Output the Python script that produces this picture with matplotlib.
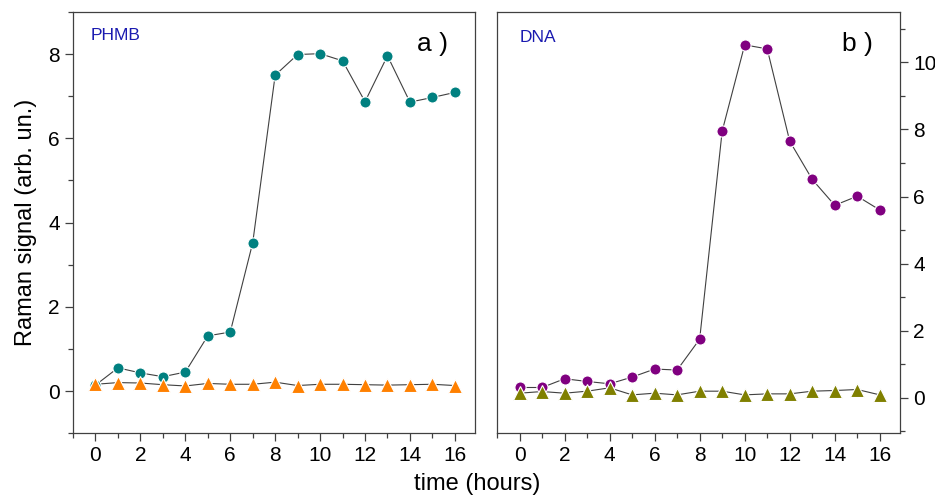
import numpy as np
import matplotlib
matplotlib.use('Agg')
from matplotlib import pyplot as plt
from matplotlib.ticker import MultipleLocator

plt.rcParams['font.family'] = ['Liberation Sans', 'DejaVu Sans']

hours = [0, 1, 2, 3, 4, 5, 6, 7, 8, 9, 10, 11, 12, 13, 14, 15, 16]
# panel a) PHMB
phmb = [0.14, 0.55, 0.43, 0.34, 0.45, 1.31, 1.40, 3.52, 7.50, 7.99, 8.01,
        7.84, 6.87, 7.96, 6.86, 6.97, 7.09]
phmb_ctrl = [0.16, 0.20, 0.19, 0.15, 0.12, 0.18, 0.16, 0.16, 0.21, 0.13, 0.16,
             0.16, 0.15, 0.14, 0.15, 0.16, 0.13]
# panel b) DNA
dna = [0.31, 0.31, 0.57, 0.49, 0.42, 0.62, 0.86, 0.83, 1.75, 7.95, 10.52,
       10.40, 7.65, 6.51, 5.74, 6.01, 5.60]
dna_ctrl = [0.14, 0.19, 0.14, 0.20, 0.30, 0.09, 0.14, 0.09, 0.20, 0.20, 0.09,
            0.12, 0.12, 0.20, 0.22, 0.25, 0.09]

fig = plt.figure(figsize=(9.35, 4.99), dpi=100)
ax1 = fig.add_axes([0.0781, 0.132, 0.430, 0.844])
ax2 = fig.add_axes([0.5316, 0.132, 0.431, 0.844])

line_kw = dict(color='#404040', lw=0.8, zorder=2)


def series(ax, y, marker, col, ms):
    ax.plot(hours, y, **line_kw)
    ax.plot(hours, y, ls='none', marker=marker, ms=ms, mfc=col, mec='white',
            mew=0.8, zorder=3)


series(ax1, phmb, 'o', '#008080', 8)
series(ax1, phmb_ctrl, '^', '#ff8000', 10.5)
series(ax2, dna, 'o', '#800080', 8)
series(ax2, dna_ctrl, '^', '#808000', 10.5)

for ax in (ax1, ax2):
    ax.set_xlim(-1, 16.9)
    ax.xaxis.set_major_locator(MultipleLocator(2))
    ax.xaxis.set_minor_locator(MultipleLocator(1))
    for s in ax.spines.values():
        s.set_linewidth(0.9)
        s.set_color('#404040')
    ax.tick_params(which='both', direction='out', color='#404040', labelsize=15)
    ax.tick_params(which='major', length=6, width=0.9)
    ax.tick_params(which='minor', length=3.5, width=0.9)

ax1.set_ylim(-1, 9)
ax1.yaxis.set_major_locator(MultipleLocator(2))
ax1.yaxis.set_minor_locator(MultipleLocator(1))
ax1.tick_params(axis='y', which='both', left=True, right=False)

ax2.set_ylim(-1.05, 11.5)
ax2.yaxis.set_major_locator(MultipleLocator(2))
ax2.yaxis.set_minor_locator(MultipleLocator(1))
ax2.yaxis.tick_right()
ax2.tick_params(axis='y', which='both', left=False, right=True)

ax1.set_ylabel('Raman signal (arb. un.)', fontsize=17, labelpad=8)
fig.text(0.51, 0.008, 'time (hours)', fontsize=17, ha='center', va='bottom')

ax1.text(0.045, 0.945, 'PHMB', transform=ax1.transAxes, fontsize=12.5,
         color='#1a1ab0', ha='left', va='center')
ax2.text(0.057, 0.94, 'DNA', transform=ax2.transAxes, fontsize=12.5,
         color='#1a1ab0', ha='left', va='center')
ax1.text(0.855, 0.925, 'a )', transform=ax1.transAxes, fontsize=19,
         ha='left', va='center')
ax2.text(0.855, 0.925, 'b )', transform=ax2.transAxes, fontsize=19,
         ha='left', va='center')

plt.savefig('out.png', dpi=100)
